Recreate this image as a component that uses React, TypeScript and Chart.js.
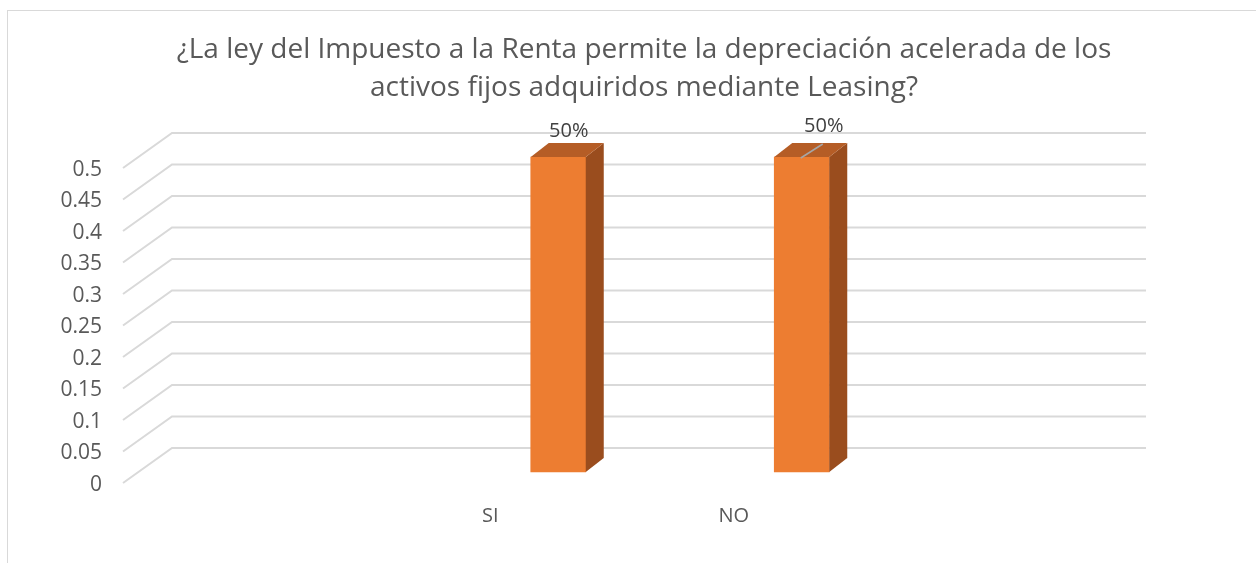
import React, { useEffect, useRef } from "react";
import { Chart, registerables } from "chart.js";

Chart.register(...registerables);

// ---------- data ----------
const TITLE_LINES = [
  "¿La ley del Impuesto a la Renta permite la depreciación acelerada de los",
  "activos fijos adquiridos mediante Leasing?",
];
const CATEGORIES = ["", "SI", "NO", ""];
const VALUES: (number | null)[] = [null, 0.5, 0.5, null];
const Y_MIN = 0;
const Y_MAX = 0.5;
const Y_STEP = 0.05;

// ---------- style ----------
const FONT = "'Open Sans'";
const TEXT = "#595959";
const GRID = "#D9D9D9";
const FRONT = "#ED7D31";
const SIDE = "#9A4D1E";
const TOP = "#B55D26";
const WALL_DX = 47;
const WALL_DY = -35;
const BAR_SHIFT_X = 68;
const BAR_SHIFT_Y = -11;
const BAR_DEPTH_X = 18;
const BAR_DEPTH_Y = -14;
const LABEL_OFFSETS: [number, number][] = [
  [0, 0],
  [1.5, 0],
  [13, -5],
  [0, 0],
];
const LEADER = [false, false, true, false];

const framePlugin = {
  id: "frame",
  beforeDraw(chart: any) {
    const ctx = chart.ctx;
    ctx.save();
    ctx.strokeStyle = GRID;
    ctx.lineWidth = 1;
    ctx.strokeRect(7.5, 10.5, 1400, 700);
    ctx.fillStyle = TEXT;
    ctx.font = `28px ${FONT}`;
    ctx.textAlign = "center";
    ctx.textBaseline = "middle";
    ctx.fillText(TITLE_LINES[0], 644, 50);
    ctx.fillText(TITLE_LINES[1], 644, 88);
    ctx.restore();
  },
};

const wallPlugin = {
  id: "wall",
  beforeDatasetsDraw(chart: any) {
    const ctx = chart.ctx;
    const y = chart.scales.y;
    const { left, right } = chart.chartArea;
    ctx.save();
    ctx.strokeStyle = GRID;
    ctx.lineWidth = 2;
    y.ticks.forEach((t: any) => {
      const py = y.getPixelForValue(t.value);
      ctx.beginPath();
      ctx.moveTo(left - 2, py);
      ctx.lineTo(left + WALL_DX, py + WALL_DY);
      ctx.lineTo(right + WALL_DX, py + WALL_DY);
      ctx.stroke();
    });
    ctx.restore();
  },
};

const bar3dPlugin = {
  id: "bar3d",
  beforeDatasetDraw(chart: any) {
    chart.ctx.save();
    chart.ctx.translate(BAR_SHIFT_X, BAR_SHIFT_Y);
  },
  afterDatasetDraw(chart: any, args: any) {
    const ctx = chart.ctx;
    const meta = args.meta;
    meta.data.forEach((el: any, i: number) => {
      if (VALUES[i] == null) return;
      const { x, y, base, width } = el.getProps(["x", "y", "base", "width"], true);
      const l = x - width / 2;
      const r = x + width / 2;
      ctx.fillStyle = SIDE;
      ctx.beginPath();
      ctx.moveTo(r, y);
      ctx.lineTo(r + BAR_DEPTH_X, y + BAR_DEPTH_Y);
      ctx.lineTo(r + BAR_DEPTH_X, base + BAR_DEPTH_Y);
      ctx.lineTo(r, base);
      ctx.closePath();
      ctx.fill();
      ctx.fillStyle = TOP;
      ctx.beginPath();
      ctx.moveTo(l, y);
      ctx.lineTo(l + BAR_DEPTH_X, y + BAR_DEPTH_Y);
      ctx.lineTo(r + BAR_DEPTH_X, y + BAR_DEPTH_Y);
      ctx.lineTo(r, y);
      ctx.closePath();
      ctx.fill();
    });
    ctx.restore();
  },
  afterDatasetsDraw(chart: any) {
    const ctx = chart.ctx;
    const meta = chart.getDatasetMeta(0);
    ctx.save();
    ctx.font = `20px ${FONT}`;
    ctx.fillStyle = "#404040";
    ctx.textAlign = "center";
    ctx.textBaseline = "middle";
    meta.data.forEach((el: any, i: number) => {
      const v = VALUES[i];
      if (v == null) return;
      const { x, y } = el.getProps(["x", "y"], true);
      const cx = x + BAR_SHIFT_X;
      const top = y + BAR_SHIFT_Y;
      if (LEADER[i]) {
        ctx.strokeStyle = "#A6A6A6";
        ctx.lineWidth = 1.5;
        ctx.beginPath();
        ctx.moveTo(cx - 1, top + 1);
        ctx.lineTo(cx + 21, top - 13);
        ctx.stroke();
      }
      const lx = cx + BAR_DEPTH_X / 2 + LABEL_OFFSETS[i][0];
      const ly = top + BAR_DEPTH_Y - 12 + LABEL_OFFSETS[i][1];
      ctx.fillText(`${Math.round(v * 100)}%`, lx, ly);
    });
    ctx.restore();
  },
};

export default function App() {
  const ref = useRef<HTMLCanvasElement>(null);
  useEffect(() => {
    let chart: Chart | null = null;
    let cancelled = false;
    const make = () => {
      if (cancelled || !ref.current) return;
      chart = new Chart(ref.current, {
        type: "bar",
        data: {
          labels: CATEGORIES,
          datasets: [
            {
              data: VALUES as any,
              backgroundColor: FRONT,
              borderWidth: 0,
              barThickness: 55,
              clip: false as any,
            },
          ],
        },
        options: {
          responsive: false,
          animation: false,
          devicePixelRatio: 1,
          layout: { padding: { top: 168, left: 0, right: 157, bottom: 0 } },
          plugins: {
            legend: { display: false },
            tooltip: { enabled: false },
            title: { display: false },
          },
          scales: {
            x: {
              type: "category",
              offset: true,
              grid: { display: false, drawTicks: false },
              border: { display: false },
              ticks: {
                color: TEXT,
                font: { family: FONT, size: 20 },
                padding: 21,
                maxRotation: 0,
                autoSkip: false,
              },
              afterFit: (axis: any) => {
                axis.height = 80;
              },
            },
            y: {
              type: "linear",
              min: Y_MIN,
              max: Y_MAX,
              grid: { display: false, drawTicks: false },
              border: { display: false },
              ticks: {
                stepSize: Y_STEP,
                color: TEXT,
                font: { family: FONT, size: 21 },
                padding: 23,
                labelOffset: 2,
                callback: (v: any) => String(Number(Number(v).toFixed(2))),
              },
              afterFit: (axis: any) => {
                axis.width = 125;
              },
            },
          },
        },
        plugins: [framePlugin, wallPlugin, bar3dPlugin],
      });
    };
    const fontsApi: any = (document as any).fonts;
    if (fontsApi && fontsApi.load) {
      Promise.all([
        fontsApi.load(`20px ${FONT}`),
        fontsApi.load(`28px ${FONT}`),
      ])
        .catch(() => null)
        .then(make);
    } else {
      make();
    }
    return () => {
      cancelled = true;
      if (chart) chart.destroy();
    };
  }, []);
  return (
    <div style={{ position: "fixed", left: 0, top: 0, width: 1256, height: 563 }}>
      <canvas ref={ref} width={1256} height={563} />
    </div>
  );
}
